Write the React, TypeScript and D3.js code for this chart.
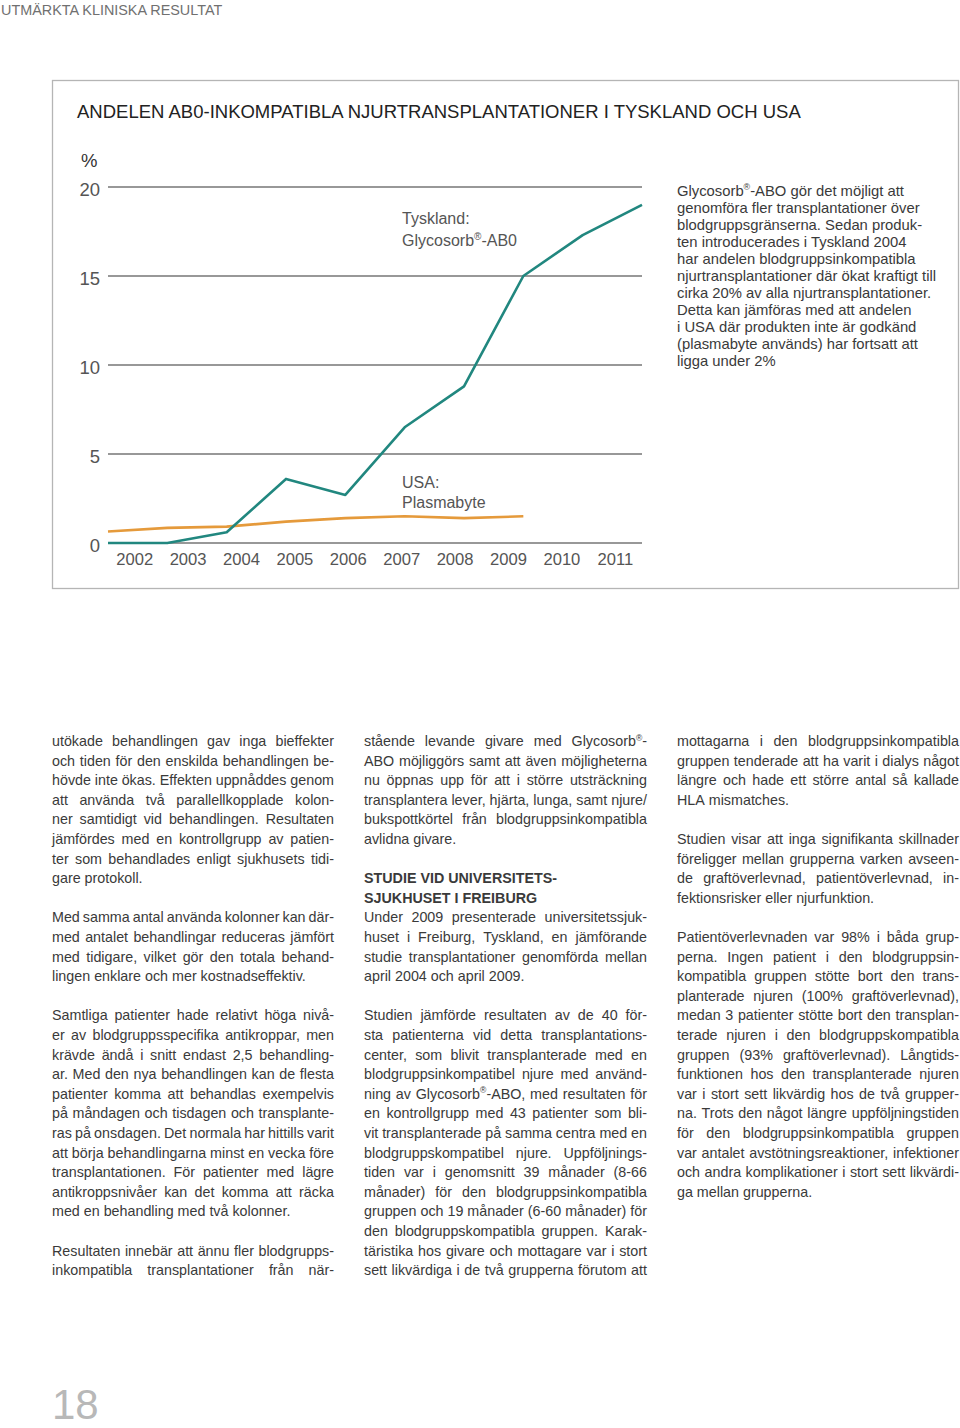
import React from 'react';
import * as d3 from 'd3';

// ---------- DATA ----------
const years = ['2002', '2003', '2004', '2005', '2006', '2007', '2008', '2009', '2010', '2011'];
const germany = [0, 0, 0.6, 3.6, 2.7, 6.5, 8.8, 15.0, 17.3, 19.0];
const usa = [0.65, 0.85, 0.92, 1.2, 1.4, 1.5, 1.4, 1.5];
const yTicks = [0, 5, 10, 15, 20];

const pageHeader = 'UTMÄRKTA KLINISKA RESULTAT';
const chartTitle = 'ANDELEN AB0-INKOMPATIBLA NJURTRANSPLANTATIONER I TYSKLAND OCH USA';
const unitLabel = '%';
const germanyLabel = ['Tyskland:', 'Glycosorb®-AB0'];
const usaLabel = ['USA:', 'Plasmabyte'];
const pageNumber = '18';

const introLines = [
  'Glycosorb®-ABO gör det möjligt att',
  'genomföra fler transplantationer över',
  'blodgruppsgränserna. Sedan produk-',
  'ten introducerades i Tyskland 2004',
  'har andelen blodgruppsinkompatibla',
  'njurtransplantationer där ökat kraftigt till',
  'cirka 20% av alla njurtransplantationer.',
  'Detta kan jämföras med att andelen',
  'i USA där produkten inte är godkänd',
  '(plasmabyte används) har fortsatt att',
  'ligga under 2%',
];

const col1 = [
  'utökade behandlingen gav inga bieffekter',
  'och tiden för den enskilda behandlingen be-',
  'hövde inte ökas. Effekten uppnåddes genom',
  'att använda två parallellkopplade kolon-',
  'ner samtidigt vid behandlingen. Resultaten',
  'jämfördes med en kontrollgrupp av patien-',
  'ter som behandlades enligt sjukhusets tidi-',
  'gare protokoll.',
  '',
  'Med samma antal använda kolonner kan där-',
  'med antalet behandlingar reduceras jämfört',
  'med tidigare, vilket gör den totala behand-',
  'lingen enklare och mer kostnadseffektiv.',
  '',
  'Samtliga patienter hade relativt höga nivå-',
  'er av blodgruppsspecifika antikroppar, men',
  'krävde ändå i snitt endast 2,5 behandling-',
  'ar. Med den nya behandlingen kan de flesta',
  'patienter komma att behandlas exempelvis',
  'på måndagen och tisdagen och transplante-',
  'ras på onsdagen. Det normala har hittills varit',
  'att börja behandlingarna minst en vecka före',
  'transplantationen. För patienter med lägre',
  'antikroppsnivåer kan det komma att räcka',
  'med en behandling med två kolonner.',
  '',
  'Resultaten innebär att ännu fler blodgrupps-',
  'inkompatibla transplantationer från när-',
];

const col2 = [
  'stående levande givare med Glycosorb®-',
  'ABO möjliggörs samt att även möjligheterna',
  'nu öppnas upp för att i större utsträckning',
  'transplantera lever, hjärta, lunga, samt njure/',
  'bukspottkörtel från blodgruppsinkompatibla',
  'avlidna givare.',
  '',
  '#STUDIE VID UNIVERSITETS-',
  '#SJUKHUSET I FREIBURG',
  'Under 2009 presenterade universitetssjuk-',
  'huset i Freiburg, Tyskland, en jämförande',
  'studie transplantationer genomförda mellan',
  'april 2004 och april 2009.',
  '',
  'Studien jämförde resultaten av de 40 för-',
  'sta patienterna vid detta transplantations-',
  'center, som blivit transplanterade med en',
  'blodgruppsinkompatibel njure med använd-',
  'ning av Glycosorb®-ABO, med resultaten för',
  'en kontrollgrupp med 43 patienter som bli-',
  'vit transplanterade på samma centra med en',
  'blodgruppskompatibel njure. Uppföljnings-',
  'tiden var i genomsnitt 39 månader (8-66',
  'månader) för den blodgruppsinkompatibla',
  'gruppen och 19 månader (6-60 månader) för',
  'den blodgruppskompatibla gruppen. Karak-',
  'täristika hos givare och mottagare var i stort',
  'sett likvärdiga i de två grupperna förutom att',
];

const col3 = [
  'mottagarna i den blodgruppsinkompatibla',
  'gruppen tenderade att ha varit i dialys något',
  'längre och hade ett större antal så kallade',
  'HLA mismatches.',
  '',
  'Studien visar att inga signifikanta skillnader',
  'föreligger mellan grupperna varken avseen-',
  'de graftöverlevnad, patientöverlevnad, in-',
  'fektionsrisker eller njurfunktion.',
  '',
  'Patientöverlevnaden var 98% i båda grup-',
  'perna. Ingen patient i den blodgruppsin-',
  'kompatibla gruppen stötte bort den trans-',
  'planterade njuren (100% graftöverlevnad),',
  'medan 3 patienter stötte bort den transplan-',
  'terade njuren i den blodgruppskompatibla',
  'gruppen (93% graftöverlevnad). Långtids-',
  'funktionen hos den transplanterade njuren',
  'var i stort sett likvärdig hos de två grupper-',
  'na. Trots den något längre uppföljningstiden',
  'för den blodgruppsinkompatibla gruppen',
  'var antalet avstötningsreaktioner, infektioner',
  'och andra komplikationer i stort sett likvärdi-',
  'ga mellan grupperna.',
];

// ---------- STYLE / LAYOUT ----------
const FONT = '"Liberation Sans", Arial, Helvetica, sans-serif';
const TEXT = '#3a3a3a';
const TEAL = '#21877f';
const ORANGE = '#e59a3b';

const plot = { left: 108, right: 642, top: 187, bottom: 543 };

let _ctx: CanvasRenderingContext2D | null = null;
function measure(text: string, size: number, weight: string = 'normal'): number {
  if (!_ctx) {
    const c = document.createElement('canvas');
    _ctx = c.getContext('2d');
  }
  if (!_ctx) return text.length * size * 0.5;
  _ctx.font = `${weight} ${size}px "Liberation Sans", Arial, sans-serif`;
  return _ctx.measureText(text).width;
}

const SUP = 0.6;
function wordWidth(w: string, size: number, weight: string) {
  const parts = w.split('®');
  let total = 0;
  parts.forEach((p, i) => {
    total += measure(p, size, weight);
    if (i < parts.length - 1) total += measure('®', size * SUP, weight);
  });
  return total;
}

function Word({ w, x, y, size, weight }: { w: string; x: number; y: number; size: number; weight: string }) {
  const parts = w.split('®');
  if (parts.length === 1) {
    return <text x={x} y={y} fontSize={size} fontWeight={weight}>{w}</text>;
  }
  const children: any[] = [];
  parts.forEach((p, i) => {
    children.push(<tspan key={'p' + i} fontSize={size} dy={i === 0 ? 0 : size * 0.38}>{p}</tspan>);
    if (i < parts.length - 1) {
      children.push(<tspan key={'r' + i} fontSize={size * SUP} dy={-size * 0.38}>®</tspan>);
    }
  });
  return <text x={x} y={y} fontWeight={weight}>{children}</text>;
}

function Line({ s, x, y, width, size, justify, weight = 'normal' }: any) {
  const words = s.split(' ');
  const widths = words.map((w: string) => wordWidth(w, size, weight));
  const sum = widths.reduce((a: number, b: number) => a + b, 0);
  const space = measure(' ', size, weight);
  let gap = space;
  let scale = 1;
  if (justify && words.length > 1) {
    gap = (width - sum) / (words.length - 1);
    if (gap < 1.5) {
      gap = 1.5;
      scale = width / (sum + gap * (words.length - 1));
    }
  }
  let cx = 0;
  const els = words.map((w: string, i: number) => {
    const el = <Word key={i} w={w} x={cx} y={0} size={size} weight={weight} />;
    cx += widths[i] + gap;
    return el;
  });
  return <g transform={`translate(${x},${y}) scale(${scale},1)`}>{els}</g>;
}

function Column({ lines, x, y0, lh, width, size, lastJustified, ragged = false }: any) {
  return (
    <g fill={TEXT}>
      {lines.map((raw: string, i: number) => {
        if (raw === '') return null;
        const heading = raw.startsWith('#');
        const s = heading ? raw.slice(1) : raw;
        const next = lines[i + 1];
        let justify = !heading && next !== undefined && next !== '';
        if (next === undefined) justify = lastJustified;
        if (ragged) justify = false;
        return (
          <Line key={i} s={s} x={x} y={y0 + i * lh} width={width} size={size}
            justify={justify} weight={heading ? 'bold' : 'normal'} />
        );
      })}
    </g>
  );
}

export default function App() {
  const x = d3.scalePoint<string>().domain(years).range([plot.left, plot.right]);
  const xb = d3.scaleBand<string>().domain(years).range([plot.left, plot.right]);
  const y = d3.scaleLinear().domain([0, 20]).range([plot.bottom, plot.top]);

  const line = d3.line<number>()
    .x((_, i) => x(years[i]) as number)
    .y((d) => y(d));

  const bodySize = 14.3;

  return (
    <svg width={960} height={1428} viewBox="0 0 960 1428"
      style={{ position: 'absolute', left: 0, top: 0, display: 'block', background: '#fff' }}
      fontFamily={FONT}>
      <rect x={0} y={0} width={960} height={1428} fill="#fff" />
      <text x={1} y={15} fontSize={14.4} fill="#707070">{pageHeader}</text>

      {/* chart box */}
      <rect x={52.5} y={80.5} width={906} height={508} fill="none" stroke="#b5b5b5" strokeWidth={1.3} />
      <text x={77} y={118} fontSize={18.5} fill="#222">{chartTitle}</text>

      {/* grid */}
      {yTicks.map((t) => (
        <g key={t}>
          <line x1={plot.left} x2={plot.right} y1={y(t)} y2={y(t)} stroke="#333" strokeWidth={1.2} />
          <text x={100} y={y(t) + 9} fontSize={18.5} fill="#555" textAnchor="end">{t}</text>
        </g>
      ))}
      <text x={81} y={167} fontSize={18.5} fill="#333">{unitLabel}</text>

      {years.map((yr) => (
        <text key={yr} x={(xb(yr) as number) + xb.bandwidth() / 2} y={565} fontSize={16.6}
          fill="#555" textAnchor="middle">{yr}</text>
      ))}

      <path d={line(usa) || ''} fill="none" stroke={ORANGE} strokeWidth={2.6} strokeLinejoin="round" />
      <path d={line(germany) || ''} fill="none" stroke={TEAL} strokeWidth={2.6} strokeLinejoin="round" />

      {/* annotations */}
      <g fill="#555">
        <text x={402} y={224} fontSize={16}>{germanyLabel[0]}</text>
        <text x={402} y={246} fontSize={16}>
          Glycosorb<tspan fontSize={10} dy={-6}>®</tspan><tspan dy={6}>-AB0</tspan>
        </text>
        <text x={402} y={488} fontSize={16}>{usaLabel[0]}</text>
        <text x={402} y={508} fontSize={16}>{usaLabel[1]}</text>
      </g>

      {/* intro paragraph */}
      <Column lines={introLines} x={677} y0={196} lh={17} width={270} size={14.8} lastJustified={false} ragged={true} />

      {/* body columns */}
      <Column lines={col1} x={52} y0={746} lh={19.6} width={282} size={bodySize} lastJustified={true} />
      <Column lines={col2} x={364} y0={746} lh={19.6} width={283} size={bodySize} lastJustified={true} />
      <Column lines={col3} x={677} y0={746} lh={19.6} width={282} size={bodySize} lastJustified={false} />

      <text x={52} y={1419} fontSize={42} fill="#b8b8b8" fontWeight={300}>{pageNumber}</text>
    </svg>
  );
}
